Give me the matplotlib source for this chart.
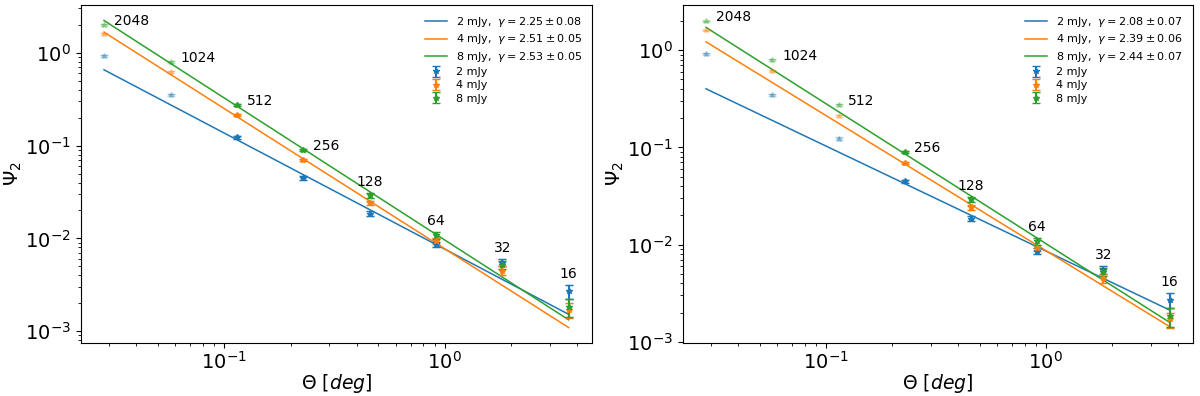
"""
Two-panel log-log plot of Psi_2 vs Theta for three flux cuts, with power-law fits.
"""

import matplotlib
matplotlib.use("Agg")
import matplotlib.pyplot as plt
import numpy as np


# resolution labels and the matching angular scale (deg)
NSIDE = [2048, 1024, 512, 256, 128, 64, 32, 16]
THETA = [0.0285, 0.0571, 0.1141, 0.2283, 0.4566, 0.9131, 1.826, 3.652]

FLUX_LABELS = ["2 mJy", "4 mJy", "8 mJy"]
COLORS = ["C0", "C1", "C2"]

# measured Psi_2 per flux cut (same data in both panels)
PSI_2MJY = [0.92, 0.348, 0.123, 0.0448, 0.0184, 0.0086, 0.0055, 0.0027]
PSI_4MJY = [1.60, 0.615, 0.212, 0.0695, 0.0241, 0.0093, 0.0045, 0.0017]
PSI_8MJY = [1.98, 0.79, 0.271, 0.0895, 0.0291, 0.0108, 0.0052, 0.00183]

ERR_2MJY = [0.02, 0.010, 0.004, 0.0018, 0.0011, 0.0006, 0.0005, 0.00045]
ERR_4MJY = [0.03, 0.015, 0.005, 0.0018, 0.0014, 0.0007, 0.0005, 0.0003]
ERR_8MJY = [0.04, 0.020, 0.006, 0.0020, 0.0018, 0.0009, 0.0005, 0.0004]

# fit results: Psi_2 = amp * Theta^(1 - gamma)
GAMMA_LEFT = [2.25, 2.51, 2.53]
GAMMA_ERR_LEFT = [0.08, 0.05, 0.05]
AMP_LEFT = [0.00767, 0.00774, 0.00962]
FIT_START_LEFT = 2          # first point used in the fit (512)

GAMMA_RIGHT = [2.08, 2.39, 2.44]
GAMMA_ERR_RIGHT = [0.07, 0.06, 0.07]
AMP_RIGHT = [0.00859, 0.00867, 0.01023]
FIT_START_RIGHT = 3         # first point used in the fit (256)


def draw_panel(ax, gammas, gamma_errs, amps, fit_start):
    theta = np.array(THETA)
    psis = [np.array(PSI_2MJY), np.array(PSI_4MJY), np.array(PSI_8MJY)]
    errs = [np.array(ERR_2MJY), np.array(ERR_4MJY), np.array(ERR_8MJY)]

    for lab, col, g, ge, a in zip(FLUX_LABELS, COLORS, gammas, gamma_errs, amps):
        ax.plot(theta, a * theta ** (1 - g), color=col, lw=1.1,
                label=rf"{lab},  $\gamma = {g:.2f} \pm {ge:.2f}$")

    for lab, col, psi, err in zip(FLUX_LABELS, COLORS, psis, errs):
        # all points faded, fitted points drawn again on top
        ax.errorbar(theta, psi, yerr=err, fmt="*", color=col, ms=4,
                    capsize=3, alpha=0.3)
        sl = slice(fit_start, None)
        ax.errorbar(theta[sl], psi[sl], yerr=err[sl], fmt="*", color=col,
                    ms=4, capsize=3, label=lab)

    ax.set_xscale("log")
    ax.set_yscale("log")

    top = np.max([p + e for p, e in zip(psis, errs)], axis=0)
    for i, n in enumerate(NSIDE):
        if n >= 256:
            ax.annotate(str(n), (theta[i], psis[2][i]), xytext=(7, 3),
                        textcoords="offset points", ha="left", va="center",
                        fontsize=10)
        else:
            ax.annotate(str(n), (theta[i], top[i]), xytext=(0, 3),
                        textcoords="offset points", ha="center", va="bottom",
                        fontsize=10)

    ax.set_xlabel(r"$\Theta\ [deg]$", fontsize=13.5, labelpad=0)
    ax.set_ylabel(r"$\Psi_2$", fontsize=14, labelpad=1)
    ax.tick_params(labelsize=14)
    ax.tick_params(axis="x", pad=2)
    ax.legend(loc="upper right", frameon=False, fontsize=8, labelspacing=0.3)


def main():
    fig = plt.figure(figsize=(12, 3.96), dpi=100)
    ax1 = fig.add_axes([0.0673, 0.134, 0.426, 0.853])
    ax2 = fig.add_axes([0.569, 0.134, 0.425, 0.853])
    draw_panel(ax1, GAMMA_LEFT, GAMMA_ERR_LEFT, AMP_LEFT, FIT_START_LEFT)
    draw_panel(ax2, GAMMA_RIGHT, GAMMA_ERR_RIGHT, AMP_RIGHT, FIT_START_RIGHT)
    fig.savefig("out.png", dpi=100)


if __name__ == "__main__":
    main()
